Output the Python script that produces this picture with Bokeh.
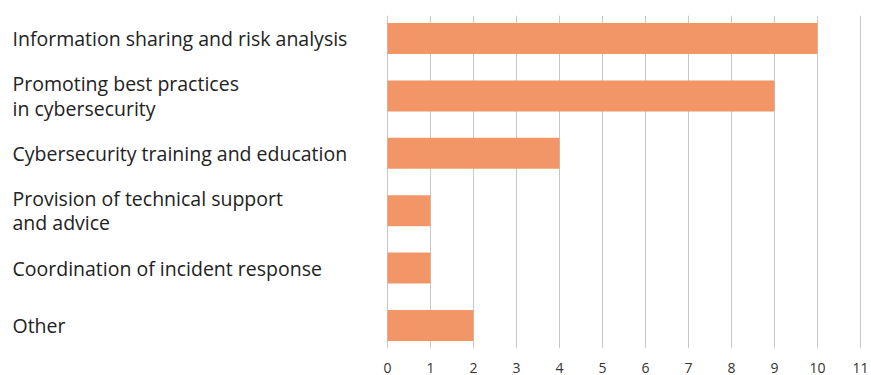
from bokeh.plotting import figure
from bokeh.models import ColumnDataSource, FactorRange, Range1d, FixedTicker
from bokeh.core.properties import value
from bokeh.embed import file_html
from bokeh.resources import INLINE

categories = [
    "Information sharing and risk analysis",
    "Promoting best practices\nin cybersecurity",
    "Cybersecurity training and education",
    "Provision of technical support\nand advice",
    "Coordination of incident response",
    "Other",
]
counts = [10, 9, 4, 1, 1, 2]
x_ticks = [0, 1, 2, 3, 4, 5, 6, 7, 8, 9, 10, 11]

FONT = "Open Sans"
BAR_COLOR = "#F29668"
W, H = 871, 375
PX_PER_UNIT = 43.0
ZERO_PX = 387.0
LABEL_PX = 12.0

x_start = -ZERO_PX / PX_PER_UNIT
x_end = (W - ZERO_PX) / PX_PER_UNIT
label_x = (LABEL_PX - ZERO_PX) / PX_PER_UNIT

src = ColumnDataSource(dict(cat=categories, val=counts, lx=[label_x] * len(categories)))

p = figure(
    width=W, height=H,
    y_range=FactorRange(factors=list(reversed(categories)),
                        range_padding=-0.1, range_padding_units="absolute"),
    x_range=Range1d(x_start, x_end),
    output_backend="svg", toolbar_location=None,
    min_border_left=0, min_border_right=0, min_border_top=15, min_border_bottom=25,
)
p.outline_line_color = None
p.background_fill_color = "white"
p.border_fill_color = "white"

p.hbar(y="cat", right="val", left=0, height=0.54, source=src,
       fill_color=BAR_COLOR, line_color=None)

p.text(x="lx", y="cat", text="cat", source=src,
       text_font=value(FONT), text_font_size="19.5px", text_color="#222222",
       text_align="left", text_baseline="middle", text_line_height=0.9)

ticker = FixedTicker(ticks=x_ticks)
p.xaxis.ticker = ticker
p.xaxis.axis_line_color = None
p.xaxis.major_tick_line_color = None
p.xaxis.minor_tick_line_color = None
p.xaxis.major_label_text_font = FONT
p.xaxis.major_label_text_font_size = "14px"
p.xaxis.major_label_text_color = "#333333"
p.xaxis.major_label_standoff = 8
p.yaxis.visible = False

p.xgrid.ticker = ticker
p.xgrid.grid_line_color = "#c8c8c8"
p.xgrid.grid_line_width = 1
p.ygrid.grid_line_color = None

open("out.html", "w").write(file_html(p, INLINE))
